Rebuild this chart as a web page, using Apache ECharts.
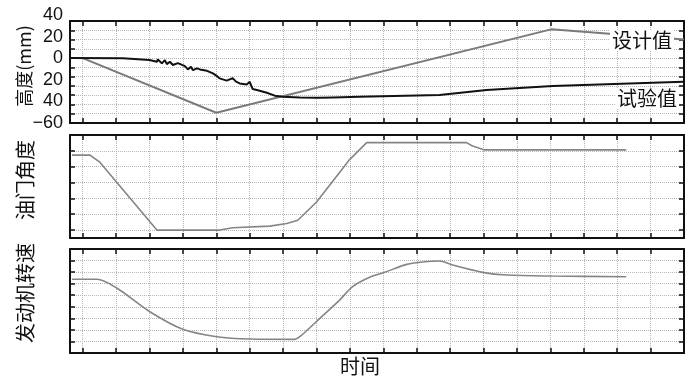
<!DOCTYPE html>
<html><head><meta charset="utf-8">
<script src="https://cdn.jsdelivr.net/npm/echarts@6/dist/echarts.min.js"></script>
<style>html,body{margin:0;padding:0;background:#fff}#c{width:692px;height:380px}</style>
</head><body><div id="c"></div>
<script>
// ---- data (time in tick units; values in panel axis units) ----
const xTicks = [0,1,2,3,4,5,6,7,8,9,10,11,12,13,14,15,16,17,18];

const heightLabelValues = [-60,-40,-20,0,20,40];
const heightLabelTexts  = ['−60','40','20','0','20','40'];

const designT = [0, 4, 14.02, 18];
const designV = [0, -59, 31, 20];

const testT = [-0.38,1.2,2.0,2.22,2.25,2.37,2.46,2.52,2.61,2.7,2.85,3.06,3.15,3.24,3.3,3.42,3.51,3.72,3.9,4.02,4.1,4.31,4.49,4.59,4.7,4.91,5.0,5.09,5.3,5.51,5.75,5.99,6.5,6.98,7.03,7.1,7.49,8.29,10.68,12.09,14.07,17.98];
const testV = [0,-0.3,-2,-4,-1.5,-5.7,-2.2,-6.5,-4,-7.5,-5.4,-8.6,-12.2,-9.4,-13,-11.1,-12.2,-13.7,-16.5,-19.4,-21.9,-24.3,-21.6,-25.4,-27.3,-28.4,-25.6,-33.4,-35.3,-37.4,-40.5,-41.7,-42.6,-42.8,-44.5,-42.8,-42.4,-41.7,-39.9,-34.5,-30.2,-25.6];

const throttleTicks = [0,1,2,3,4,5,6];
const throttleT = [-0.32,0.22,0.52,2.22,4.1,4.49,5.6,6.11,6.44,7.0,7.69,7.99,8.5,11.49,11.67,12.03,16.27];
const throttleV = [4.73,4.73,4.27,0,0,0.15,0.25,0.42,0.62,1.77,3.64,4.45,5.52,5.52,5.31,5.06,5.06];

const speedT = [-0.32,0.43,1.03,2.01,3.0,4.01,5.0,6.35,6.5,7.1,7.69,8.08,8.59,9.04,9.7,10.23,10.68,11.07,11.97,12.69,14.06,16.27];
const speedV = [6.38,6.38,5.6,3.57,2.05,1.41,1.21,1.18,1.41,3.0,4.58,5.74,6.55,6.98,7.67,7.9,7.96,7.61,6.98,6.75,6.66,6.6];

const zip = (a, b) => a.map((t, i) => [t, b[i]]);

// ---- styling helpers ----
const INK = '#111';
const lineCfg = { show: true, onZero: false, lineStyle: { color: INK, width: 2 } };
const tickCfg = (vals) => Object.assign({ show: true, inside: true, length: 5, lineStyle: { color: INK, width: 1.5 } }, vals ? { customValues: vals } : {});
const gridLine = { show: true, lineStyle: { color: '#b5b5b5', type: 'dotted', width: 1 } };

function xAxes(gi) {
  const base = { type: 'value', gridIndex: gi, min: -0.38, max: 18, axisLine: lineCfg, axisLabel: { show: false } };
  return [
    Object.assign({}, base, { position: 'bottom', axisTick: tickCfg(xTicks), splitLine: gridLine }),
    Object.assign({}, base, { position: 'top', axisTick: tickCfg(xTicks), splitLine: { show: false } })
  ];
}
function yAxes(gi, extra) {
  const base = Object.assign({ type: 'value', gridIndex: gi, axisLine: lineCfg, axisLabel: { show: false } }, extra.base);
  return [
    Object.assign({}, base, { position: 'left', axisTick: tickCfg(extra.ticks), splitLine: gridLine }),
    Object.assign({}, base, { position: 'right', axisTick: tickCfg(extra.ticks), splitLine: { show: false } })
  ];
}

const grids = [
  { left: 70, right: 8, top: 21, height: 102 },
  { left: 70, right: 8, top: 135, height: 103 },
  { left: 70, right: 8, top: 249, height: 104 },
  { left: 70, right: 8, top: 15, height: 108 }  // label-only grid for the height axis
];

const xAxis = [].concat(
  xAxes(0), xAxes(1), xAxes(2),
  [{ type: 'value', gridIndex: 3, min: 0, max: 1, show: false }]
);
const yAxis = [].concat(
  yAxes(0, { base: { min: -70, max: 40, interval: 10 } }),
  yAxes(1, { base: { min: -0.5, max: 6 }, ticks: throttleTicks }),
  yAxes(2, { base: { min: 0, max: 9, interval: 1 } }),
  [{
    type: 'value', gridIndex: 3, min: -60, max: 40, interval: 20, position: 'left',
    axisLine: { show: false }, axisTick: { show: false }, splitLine: { show: false },
    axisLabel: { show: true, margin: 7, color: INK, fontSize: 18, fontFamily: 'Liberation Sans',
      formatter: v => heightLabelTexts[heightLabelValues.indexOf(v)] }
  }]
);

const cjk = '"Noto Sans CJK SC", sans-serif';
function txt(x, y, s, size, rot, bg) {
  return {
    type: 'text', x: x, y: y, rotation: rot || 0, z: 100,
    style: { text: s, fill: INK, font: size + 'px ' + cjk, align: 'center', verticalAlign: 'middle',
      backgroundColor: bg || 'transparent', padding: bg ? [0, 2] : 0 }
  };
}

const option = {
  backgroundColor: '#fff',
  animation: false,
  grid: grids,
  xAxis: xAxis,
  yAxis: yAxis,
  series: [
    { type: 'line', name: '设计值', xAxisIndex: 0, yAxisIndex: 0, data: zip(designT, designV), showSymbol: false, symbol: 'none',
      lineStyle: { color: '#7a7a7a', width: 2 }, z: 3 },
    { type: 'line', name: '试验值', xAxisIndex: 0, yAxisIndex: 0, data: zip(testT, testV), showSymbol: false, symbol: 'none',
      lineStyle: { color: '#111', width: 2 }, z: 4 },
    { type: 'line', name: '油门角度', xAxisIndex: 2, yAxisIndex: 2, data: zip(throttleT, throttleV), showSymbol: false, symbol: 'none',
      lineStyle: { color: '#858585', width: 1.6 } },
    { type: 'line', name: '发动机转速', xAxisIndex: 4, yAxisIndex: 4, data: zip(speedT, speedV), showSymbol: false, symbol: 'none',
      smooth: 0.3, lineStyle: { color: '#858585', width: 1.6 } }
  ],
  graphic: [
    txt(24, 66, '高度(mm)', 18, Math.PI / 2),
    txt(25, 180, '油门角度', 20, Math.PI / 2),
    txt(25, 293, '发动机转速', 20, Math.PI / 2),
    txt(360, 366, '时间', 20),
    txt(642, 40, '设计值', 20, 0, '#fff'),
    txt(647, 98, '试验值', 20, 0, '#fff')
  ]
};

const chart = echarts.init(document.getElementById('c'), null, { renderer: 'canvas' });
chart.setOption(option);
</script>
</body></html>
